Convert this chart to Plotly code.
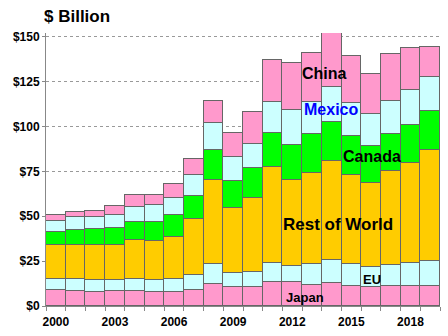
import plotly.graph_objects as go

years = list(range(2000, 2020))
japan = [8.9, 8.4, 7.8, 8.4, 8.4, 7.8, 7.8, 9.1, 12.5, 10.8, 10.8, 13.4, 13.4, 11.9, 13.0, 11.3, 10.6, 11.3, 11.3, 11.3]
eu = [6.3, 6.8, 6.9, 6.3, 6.8, 6.9, 7.4, 8.0, 10.7, 7.6, 8.2, 10.4, 9.1, 11.4, 12.7, 12.1, 11.3, 11.7, 12.7, 13.8]
rest_of_world = [18.6, 18.6, 19.5, 19.5, 21.8, 21.7, 23.3, 31.2, 47.1, 36.2, 41.2, 53.7, 47.4, 50.9, 55.3, 49.8, 46.7, 51.9, 55.6, 61.7]
canada = [7.5, 8.4, 8.9, 9.1, 9.8, 10.4, 12.1, 13.0, 16.7, 15.1, 16.9, 18.6, 20.0, 21.6, 21.6, 21.6, 20.6, 21.0, 21.3, 21.8]
mexico = [6.1, 7.1, 6.5, 7.6, 8.2, 9.3, 9.6, 11.9, 14.7, 13.4, 13.2, 17.7, 19.0, 17.8, 19.5, 18.4, 17.5, 18.0, 19.4, 18.7]
china = [3.0, 3.1, 3.4, 4.9, 6.9, 5.8, 8.0, 8.6, 12.6, 13.0, 17.9, 23.4, 26.4, 27.4, 29.8, 26.2, 22.5, 26.2, 23.2, 16.8]

series = [
    ("Japan", japan, "#FF99CC"),
    ("EU", eu, "#CCFFFF"),
    ("Rest of World", rest_of_world, "#FFCC00"),
    ("Canada", canada, "#00FF00"),
    ("Mexico", mexico, "#CCFFFF"),
    ("China", china, "#FF99CC"),
]

x_tick_vals = [2000, 2003, 2006, 2009, 2012, 2015, 2018]
y_tick_vals = [0, 25, 50, 75, 100, 125, 150]

FONT = "Liberation Sans, Arial, sans-serif"

fig = go.Figure()
for name, vals, col in series:
    fig.add_trace(go.Bar(
        x=years, y=vals, name=name,
        marker=dict(color=col, line=dict(color="#666666", width=1)),
    ))

labels = [
    ("China", 2013.66, 129.2, 16, "#000000"),
    ("Mexico", 2013.97, 109.2, 16, "#0000FF"),
    ("Canada", 2016.05, 83.5, 16, "#000000"),
    ("Rest of World", 2014.32, 45.6, 17, "#000000"),
    ("EU", 2016.05, 14.9, 13, "#000000"),
    ("Japan", 2012.65, 4.9, 13, "#000000"),
]
for txt, xv, yv, sz, col in labels:
    fig.add_annotation(x=xv, y=yv, text="<b>%s</b>" % txt, showarrow=False,
                       xanchor="center", yanchor="middle",
                       font=dict(family=FONT, size=sz, color=col))

fig.add_annotation(xref="paper", yref="paper", x=0.079, y=1.059, text="<b>$ Billion</b>",
                   showarrow=False, xanchor="center", yanchor="middle",
                   font=dict(family=FONT, size=17, color="#000000"))

fig.update_layout(
    width=448, height=336,
    margin=dict(l=46, r=8, t=33, b=30),
    barmode="stack", bargap=0,
    showlegend=False,
    plot_bgcolor="white", paper_bgcolor="white",
    font=dict(family=FONT, color="#000000"),
)
fig.update_xaxes(
    range=[1999.5, 2019.5],
    tickmode="array", tickvals=x_tick_vals, ticktext=[str(v) for v in x_tick_vals],
    tickfont=dict(family=FONT, size=12, weight="bold"),
    ticks="", showgrid=False, ticklabelstandoff=5,
    showline=True, linecolor="#888888", linewidth=1,
    minor=dict(ticks="outside", tick0=1999.5, dtick=1, ticklen=4, tickcolor="#888888", showgrid=False),
)
fig.update_yaxes(
    range=[0, 152],
    tickmode="array", tickvals=y_tick_vals, ticktext=["$%d" % v for v in y_tick_vals],
    tickfont=dict(family=FONT, size=12, weight="bold"),
    ticks="outside", ticklen=3, tickcolor="#888888",
    showgrid=True, gridcolor="#999999", griddash="dot", gridwidth=1,
    showline=True, linecolor="#888888", linewidth=1,
    zeroline=False,
)

fig.write_html("out.html")
